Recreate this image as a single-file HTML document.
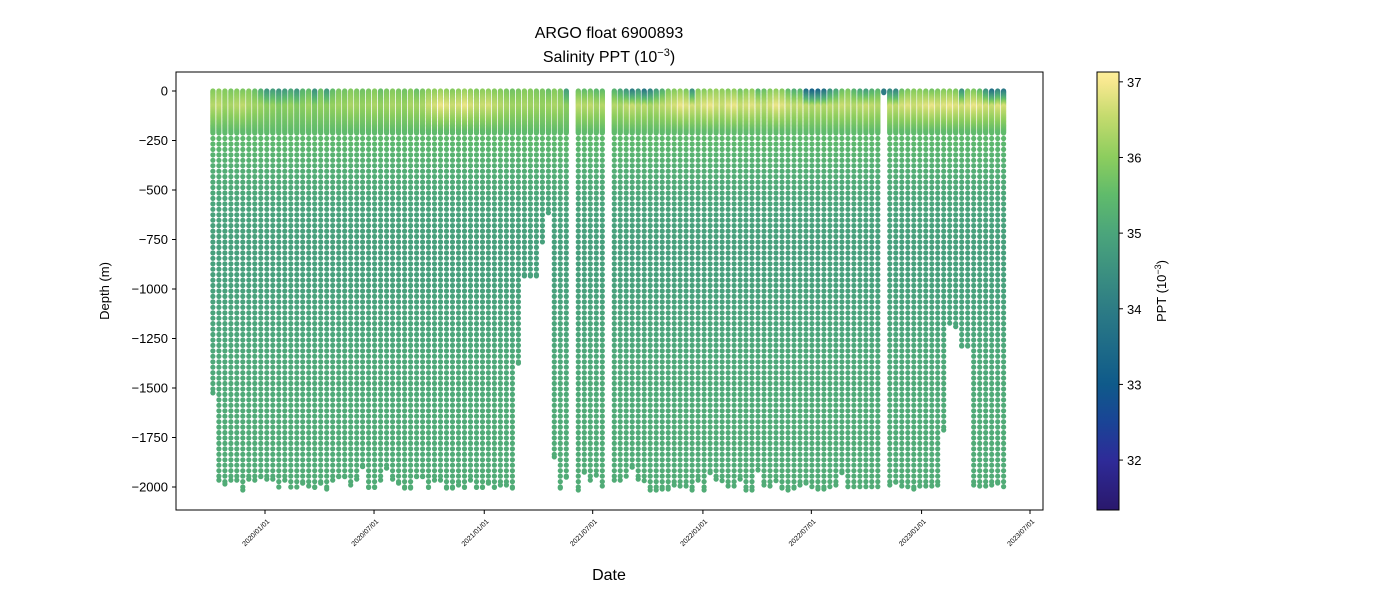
<!DOCTYPE html>
<html><head><meta charset="utf-8"><style>
body{margin:0;background:#fff;}
svg{display:block;font-family:"Liberation Sans",sans-serif;}
</style></head><body>
<svg id="chart" width="1400" height="600" viewBox="0 0 1400 600">
<defs>
<linearGradient id="cbgrad" x1="0" y1="1" x2="0" y2="0">
<stop offset="0" stop-color="#2a186c"/><stop offset="0.114" stop-color="#2e2b98"/><stop offset="0.2" stop-color="#1a4496"/>
<stop offset="0.287" stop-color="#0f5a8a"/><stop offset="0.459" stop-color="#2d7c85"/><stop offset="0.632" stop-color="#4ba57b"/>
<stop offset="0.72" stop-color="#60bb6b"/><stop offset="0.805" stop-color="#8ccd5e"/><stop offset="0.9" stop-color="#c5db6e"/>
<stop offset="0.977" stop-color="#f7e88f"/><stop offset="1" stop-color="#fdef9a"/>
</linearGradient>
<clipPath id="plotclip"><rect x="176" y="72" width="867" height="438"/></clipPath>
</defs>
<text x="609" y="38" text-anchor="middle" font-size="16">ARGO float 6900893</text>
<text x="609" y="62" text-anchor="middle" font-size="16">Salinity PPT (10<tspan dy="-6" font-size="11">−3</tspan><tspan dy="6">)</tspan></text>
<g id="dots" clip-path="url(#plotclip)"></g>
<rect x="176" y="72" width="867" height="438" fill="none" stroke="#000" stroke-width="1"/>
<g id="yaxis"></g>
<g id="xaxis"></g>
<text transform="translate(109,291) rotate(-90)" text-anchor="middle" font-size="13">Depth (m)</text>
<text x="609" y="580" text-anchor="middle" font-size="16">Date</text>
<rect x="1097" y="72" width="22" height="438" fill="url(#cbgrad)" stroke="#000" stroke-width="1"/>
<g id="cbaxis"></g>
<text transform="translate(1166,291) rotate(-90)" text-anchor="middle" font-size="13">PPT (10<tspan dy="-5" font-size="9">−3</tspan><tspan dy="5">)</tspan></text>
</svg>
<script>
const NS='http://www.w3.org/2000/svg';
const yTicks=[0,-250,-500,-750,-1000,-1250,-1500,-1750,-2000];
const yTickLabels=['0','−250','−500','−750','−1000','−1250','−1500','−1750','−2000'];
const xTickDays=[0,182,366,547,731,912,1096,1277];
const xTickLabels=['2020/01/01','2020/07/01','2021/01/01','2021/07/01','2022/01/01','2022/07/01','2023/01/01','2023/07/01'];
const cbTicks=[32,33,34,35,36,37];
const firstProfileDay=-87;
const cycleDays=10;
const maxDepth=[-1525,-1965,-1985,-1965,-1965,-2015,-1960,-1965,-1948,-1960,
-1960,-2000,-1965,-2000,-2000,-1981,-1995,-2002,-1981,-2010,
-1965,-1948,-1948,-1990,-1960,-1897,-2002,-2002,-1965,-1905,
-1960,-1981,-2005,-2005,-1948,-1948,-2002,-1965,-1965,-2005,
-2005,-1990,-2002,-1965,-2002,-2002,-1981,-2002,-1990,-1990,
-2005,-1374,-934,-934,-934,-762,-615,-1848,-2005,-1950,
null,-2015,-1925,-1965,-1940,-1995,null,-1965,-1965,-1945,
-1900,-1960,-1968,-2015,-2015,-2010,-2010,-1990,-1995,-1995,
-2015,-1965,-2015,-1928,-1960,-1968,-1995,-1995,-1960,-2015,
-2015,-1914,-1990,-1995,-1968,-2005,-2015,-2005,-1990,-1980,
-1998,-2010,-2010,-1998,-1990,-1928,-1998,-1998,-1998,-1998,
-1998,-1998,-10,-1990,-1975,-1995,-1998,-2010,-1995,-1995,
-1995,-1990,-1712,-1172,-1190,-1288,-1288,-1990,-1995,-1995,
-1990,-1980,-1998];
const surfSal=[35.9,36.0,35.9,35.8,35.9,35.8,35.9,35.6,35.2,
34.6,34.8,34.6,34.7,35.0,34.6,35.3,35.5,34.5,35.6,34.7,35.5,
35.8,35.7,35.9,35.8,35.7,35.8,35.9,35.6,35.8,35.9,35.8,35.7,35.9,35.6,35.8,
36.0,36.0,36.1,36.0,35.9,36.0,36.1,36.0,35.9,36.0,36.0,35.9,35.9,35.8,35.7,
35.8,35.9,35.9,35.8,35.8,35.6,35.9,35.8,34.8,
35.0,
35.7,35.5,35.6,35.4,35.5,
35.0,
35.3,35.0,34.6,34.0,34.6,33.8,34.2,34.8,35.2,
35.8,35.9,36.0,35.8,34.5,35.9,35.9,36.0,36.1,36.0,35.9,36.0,35.7,35.9,36.0,35.4,35.6,35.9,36.0,35.9,35.5,35.2,35.3,33.5,33.2,
33.3,33.6,34.5,35.0,35.6,35.8,35.3,35.0,34.8,35.2,35.4,
34.0,
34.3,34.2,35.6,35.8,35.9,35.9,35.8,35.7,35.8,35.9,35.9,35.8,34.5,35.8,35.8,35.5,34.5,33.6,34.2,33.8];
const peakSal=[36.4,36.5,36.2,36.3,36.4,36.5,36.3,36.2,36.2,
36.0,36.1,35.9,36.0,36.1,35.9,36.0,36.2,35.9,36.1,36.0,36.1,
36.2,36.1,36.3,36.2,36.1,36.2,36.3,36.1,36.2,36.3,36.2,36.1,36.3,36.2,36.3,
36.6,36.7,36.9,36.8,36.6,36.7,36.9,36.7,36.5,36.6,36.7,36.5,36.4,36.3,36.2,
36.2,36.3,36.2,36.2,36.1,36.2,36.3,36.2,36.0,
36.0,
36.5,36.4,36.5,36.3,36.4,
36.0,
36.4,36.3,36.5,36.6,36.4,36.5,36.3,36.4,36.5,
36.6,36.7,36.9,36.8,36.7,36.6,36.8,36.9,36.7,36.6,36.8,36.9,36.6,36.7,36.8,36.6,36.5,36.7,36.9,36.8,36.6,36.5,36.6,36.5,36.4,
36.5,36.4,36.5,36.4,36.6,36.5,36.4,36.5,36.6,36.5,36.4,
34.0,
36.6,36.5,36.7,36.8,36.6,36.7,36.8,36.9,36.7,36.8,36.9,36.8,36.7,36.8,36.9,36.8,36.7,36.6,36.8,36.7];
const deepDepths=[212,400,600,800,1000,1300,1600,2000];
const deepSal=[35.5,35.2,34.95,34.85,34.9,35.05,35.12,35.15];

function xScale(day){return 265+day*(765/1277);}
function yScale(d){return 91-d*(396/2000);}
const cbMin=31.34,cbMax=37.13;
function cbY(v){return 510-(v-cbMin)/(cbMax-cbMin)*438;}
const cmapStops=[[0,[42,24,108]],[0.114,[46,43,152]],[0.2,[26,68,150]],[0.287,[15,90,138]],[0.459,[45,124,133]],[0.632,[75,165,123]],[0.72,[96,187,107]],[0.805,[140,205,94]],[0.9,[197,219,110]],[0.977,[247,232,143]],[1,[253,239,154]]];
function cmap(v){let t=(v-cbMin)/(cbMax-cbMin);t=Math.max(0,Math.min(1,t));
 for(let i=1;i<cmapStops.length;i++){if(t<=cmapStops[i][0]){const a=cmapStops[i-1],b=cmapStops[i];const f=(t-a[0])/(b[0]-a[0]);
 return 'rgb('+a[1].map((c,k)=>Math.round(c+(b[1][k]-c)*f)).join(',')+')';}}return 'rgb(253,239,154)';}
function salAt(i,d){
 if(d<=80) return surfSal[i]+(peakSal[i]-surfSal[i])*(d/80);
 if(d<=212) return peakSal[i]+(deepSal[0]-peakSal[i])*((d-80)/132);
 for(let k=1;k<deepDepths.length;k++){if(d<=deepDepths[k]){const f=(d-deepDepths[k-1])/(deepDepths[k]-deepDepths[k-1]);return deepSal[k-1]+(deepSal[k]-deepSal[k-1])*f;}}
 return deepSal[deepSal.length-1];}

const dots=document.getElementById('dots');
let html='';
for(let i=0;i<maxDepth.length;i++){
 if(maxDepth[i]===null) continue;
 const day=firstProfileDay+cycleDays*i;
 const cx=xScale(day).toFixed(1);
 const md=-maxDepth[i];
 const depths=[];
 for(let d=0;d<=Math.min(212,md);d+=4) depths.push(d);
 for(let d=240;d<md;d+=27.5) depths.push(d);
 if(md>212) depths.push(md);
 for(const d of depths){
  html+='<circle cx="'+cx+'" cy="'+yScale(-d).toFixed(1)+'" r="2.6" fill="'+cmap(salAt(i,d))+'"/>';
 }
}
dots.innerHTML=html;

const ya=document.getElementById('yaxis');
yTicks.forEach((v,k)=>{const y=yScale(v);
 const t=document.createElementNS(NS,'line');t.setAttribute('x1',172);t.setAttribute('x2',176);t.setAttribute('y1',y);t.setAttribute('y2',y);t.setAttribute('stroke','#000');
 
 
 ya.appendChild(t);
 const l=document.createElementNS(NS,'text');l.setAttribute('x',168);l.setAttribute('y',y+4.5);l.setAttribute('text-anchor','end');l.setAttribute('font-size','13');l.textContent=yTickLabels[k];
 
 
 ya.appendChild(l);});
const xa=document.getElementById('xaxis');
xTickDays.forEach((d,k)=>{const x=xScale(d);
 const t=document.createElementNS(NS,'line');t.setAttribute('x1',x);t.setAttribute('x2',x);t.setAttribute('y1',510);t.setAttribute('y2',514);t.setAttribute('stroke','#000');
 
 
 xa.appendChild(t);
 const l=document.createElementNS(NS,'text');l.setAttribute('transform','translate('+(x+2)+',519) rotate(-45)');l.setAttribute('text-anchor','end');l.setAttribute('font-size','7');l.setAttribute('dy','4');l.textContent=xTickLabels[k];
 
 
 xa.appendChild(l);});
const cba=document.getElementById('cbaxis');
cbTicks.forEach(v=>{const y=cbY(v);
 const t=document.createElementNS(NS,'line');t.setAttribute('x1',1119);t.setAttribute('x2',1123);t.setAttribute('y1',y);t.setAttribute('y2',y);t.setAttribute('stroke','#000');
 
 
 cba.appendChild(t);
 const l=document.createElementNS(NS,'text');l.setAttribute('x',1127);l.setAttribute('y',y+5);l.setAttribute('font-size','13');l.textContent=String(v);
 
 
 cba.appendChild(l);});
</script>
</body></html>
